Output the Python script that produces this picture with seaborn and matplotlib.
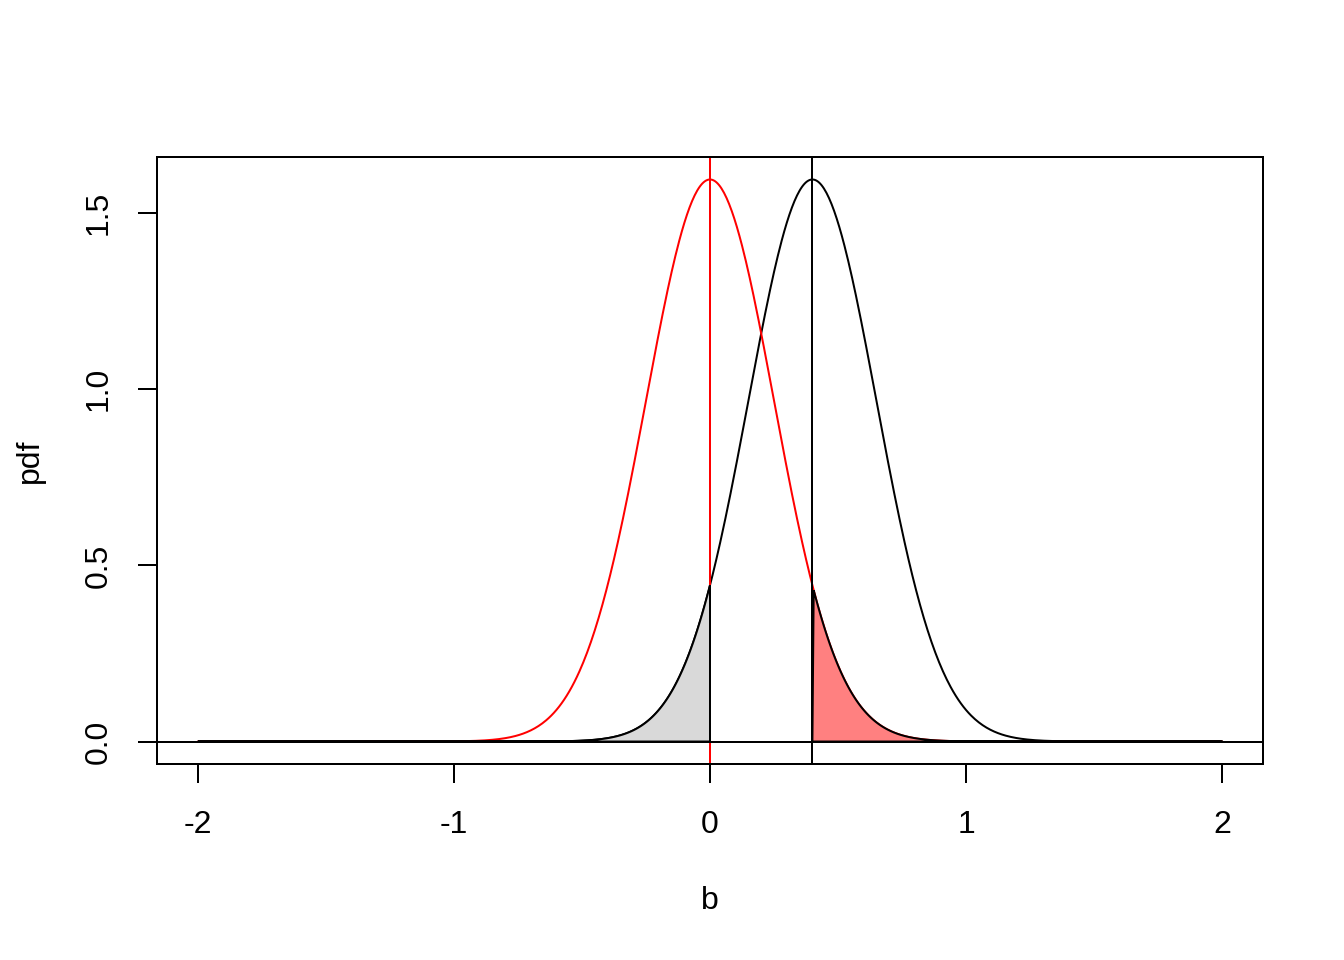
import numpy as np
import pandas as pd
import matplotlib
matplotlib.use("Agg")
import matplotlib.pyplot as plt
import seaborn as sns

# parameters: two normal curves, same spread
means = [0.0, 0.4]          # null (red), alternative (black)
sd = 0.25
x_range = [-2.0, 2.0]
crit = 0.4                  # start of red tail
cut = 0.0                   # end of grey tail
x_ticks = [-2, -1, 0, 1, 2]
y_ticks = [0.0, 0.5, 1.0, 1.5]

b = np.linspace(x_range[0], x_range[1], 801)
df = pd.DataFrame({
    "b": b,
    "null": np.exp(-0.5 * ((b - means[0]) / sd) ** 2) / (sd * np.sqrt(2 * np.pi)),
    "alt": np.exp(-0.5 * ((b - means[1]) / sd) ** 2) / (sd * np.sqrt(2 * np.pi)),
})

sns.set_style("ticks")
plt.rcParams["font.family"] = ["Liberation Sans", "DejaVu Sans"]
plt.rcParams["text.color"] = "black"
plt.rcParams["axes.labelcolor"] = "black"
plt.rcParams["xtick.color"] = "black"
plt.rcParams["ytick.color"] = "black"
lw = 0.75

fig = plt.figure(figsize=(7, 5), dpi=192)
ax = fig.add_axes([157 / 1344, 1 - 764 / 960, 1106 / 1344, 607 / 960])

sns.lineplot(data=df, x="b", y="alt", color="black", lw=lw, ax=ax)
sns.lineplot(data=df, x="b", y="null", color="red", lw=lw, ax=ax)

ax.axvline(means[0], color="red", lw=lw)
ax.axvline(means[1], color="black", lw=lw)
ax.axhline(0, color="black", lw=lw)

# shaded tails drawn last, with black borders, as in the reference
lo = df[df["b"] <= cut]
ax.fill(np.r_[lo["b"], cut, lo["b"].iloc[0]], np.r_[lo["alt"], 0, 0],
        facecolor="#D9D9D9", edgecolor="black", lw=lw, zorder=4)
hi = df[df["b"] >= crit]
ax.fill(np.r_[crit, hi["b"], hi["b"].iloc[-1]], np.r_[0, hi["null"], 0],
        facecolor="#FF8080", edgecolor="black", lw=lw, zorder=4)

ymax = df["null"].max()
ax.set_xlim(-2.16, 2.16)
ax.set_ylim(-0.04 * ymax, 1.04 * ymax)
ax.set_xticks(x_ticks)
ax.set_xticklabels([str(t) for t in x_ticks])
ax.set_yticks(y_ticks)
ax.set_yticklabels([f"{t:.1f}" for t in y_ticks], rotation=90, va="center")
ax.tick_params(length=7.2, width=lw, labelsize=12, color="black", labelcolor="black")
ax.tick_params(axis="x", pad=10)
ax.tick_params(axis="y", pad=9)
for s in ax.spines.values():
    s.set_visible(True)
    s.set_linewidth(lw)
    s.set_color("black")
    s.set_zorder(5)

ax.set_xlabel("b", fontsize=12, color="black")
ax.set_ylabel("pdf", fontsize=12, va="center", color="black")
ax.xaxis.set_label_coords(0.5, -(901 - 764) / 607)
ax.xaxis.label.set_va("center")
ax.yaxis.set_label_coords(-(157 - 30) / 1106, 0.5)

fig.savefig("out.png", dpi=192)
